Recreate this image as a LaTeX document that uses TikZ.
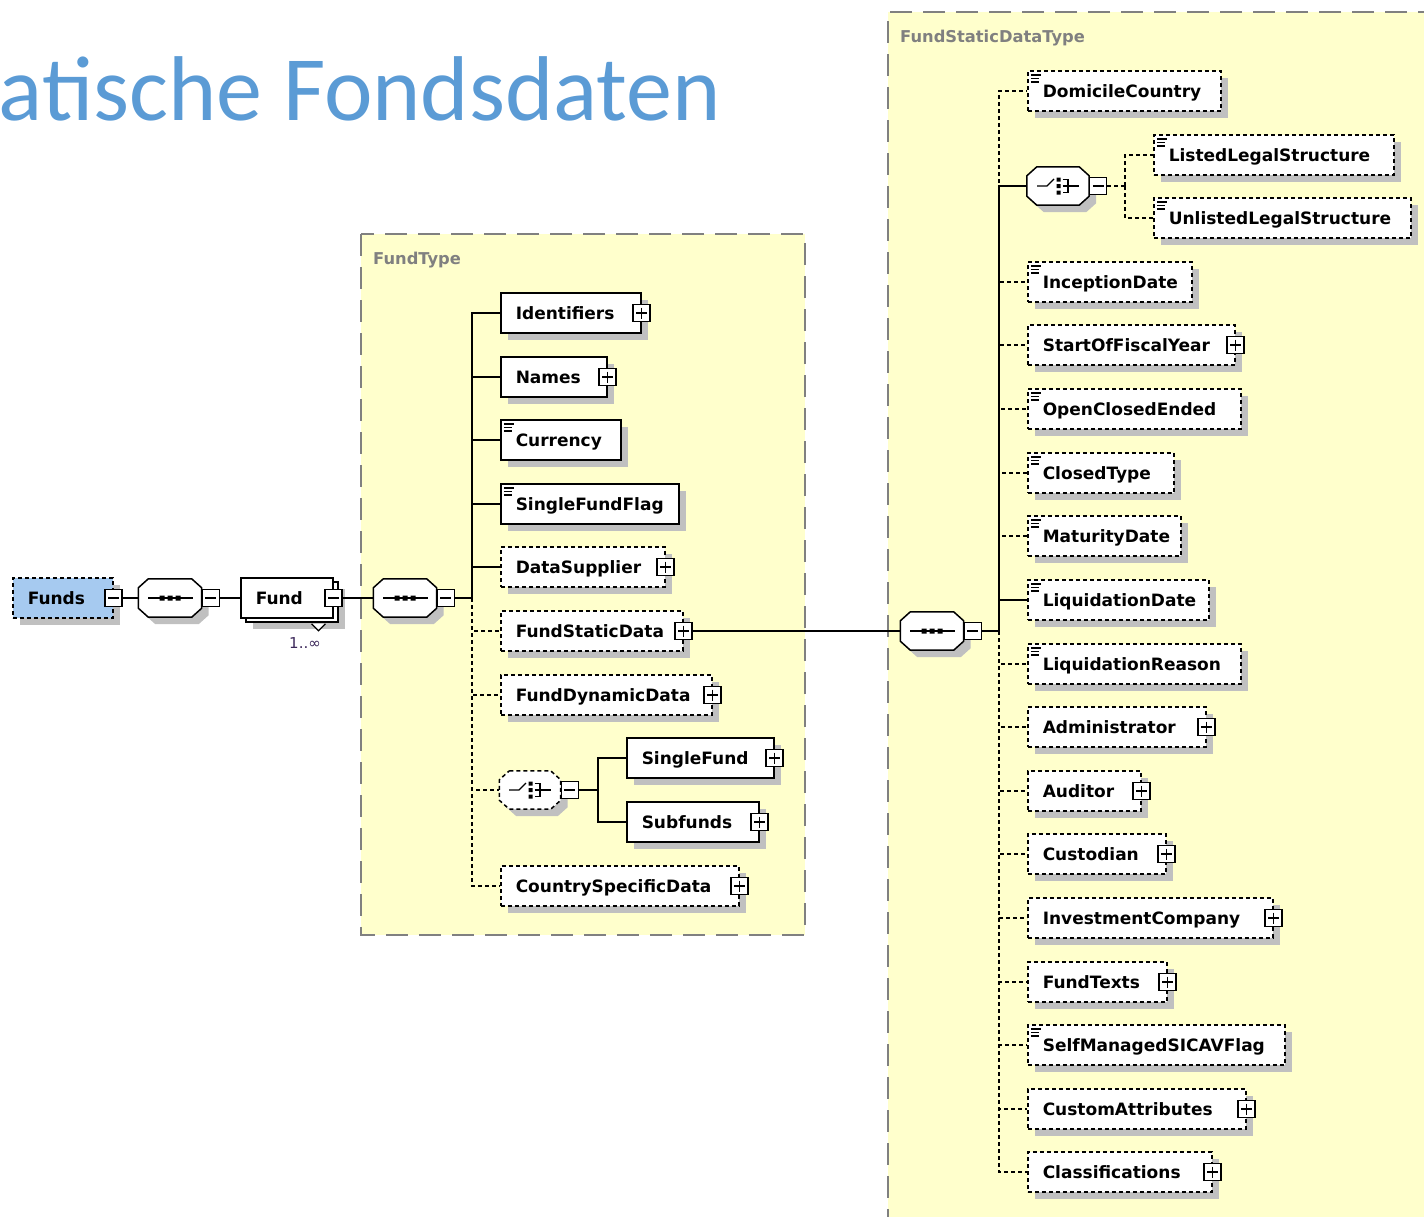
\documentclass[tikz,border=0pt]{standalone}
\usepackage{fontspec}
\usetikzlibrary{shadows}
\newfontfamily\elfam{DejaVu Sans}
\newfontfamily\ttlfam{Carlito}
\definecolor{yel}{RGB}{255,255,204}
\definecolor{shgray}{RGB}{192,192,192}
\definecolor{pgray}{RGB}{128,128,128}
\definecolor{fblue}{RGB}{166,202,240}
\definecolor{tblue}{RGB}{91,155,213}
\definecolor{multc}{RGB}{60,40,90}
\newcommand\myel[6]{\node[#1, minimum width=#5pt] (#2) at (#3,#4) {\makebox[\dimexpr#5pt-30pt\relax][l]{#6}};}
\newcommand\myoct[2]{\path[octs,#2] ([xshift=10pt]#1.north west) -- ([xshift=-10pt]#1.north east) -- ([yshift=-9pt]#1.north east) -- ([yshift=9pt]#1.south east) -- ([xshift=-10pt]#1.south east) -- ([xshift=10pt]#1.south west) -- ([yshift=9pt]#1.south west) -- ([yshift=-9pt]#1.north west) -- cycle;}
\newcommand\seqsym[1]{\begin{scope}[shift={(#1.center)}]
  \draw[line width=1.3pt] (-22pt,0pt) -- (23pt,0pt);
  \fill[black] (-10.5pt,-2.5pt) rectangle (-5.5pt,2.5pt) (-2.5pt,-2.5pt) rectangle (2.5pt,2.5pt) (5.5pt,-2.5pt) rectangle (10.5pt,2.5pt);
  \end{scope}}
\newcommand\chosym[1]{\begin{scope}[shift={(#1.center)}]
  \draw[line width=1.3pt] (-21pt,0pt) -- (-11pt,0pt) -- (-4pt,7pt);
  \fill[black] (-1.5pt,4.5pt) rectangle (2.5pt,8.5pt) (-1.5pt,-2pt) rectangle (2.5pt,2pt) (-1.5pt,-8.5pt) rectangle (2.5pt,-4.5pt);
  \draw[line width=1.2pt] (4.5pt,6.5pt) -- (10pt,6.5pt) -- (10pt,-6.5pt) -- (4.5pt,-6.5pt) (4.5pt,0pt) -- (21pt,0pt);
  \end{scope}}
\begin{document}
\begin{tikzpicture}[x=1pt,y=1pt,
  core/.style={draw, fill=white, line width=1.5pt, anchor=west,
    font=\elfam\bfseries\fontsize{17}{20}\selectfont,
    text height=16pt, text depth=4pt, inner xsep=15pt, inner ysep=0pt,
    minimum height=40pt},
  shd/.style={general shadow={fill=shgray, shadow xshift=7pt, shadow yshift=-7pt}},
  man/.style={core, shd},
  opt/.style={core, shd, dash pattern=on 4pt off 3pt},
  ico/.style={path picture={\draw[solid, black, line width=1.1pt]
      ([shift={(3pt,-4pt)}]path picture bounding box.north west) -- ++(10pt,0pt)
      ([shift={(3pt,-7.5pt)}]path picture bounding box.north west) -- ++(8pt,0pt)
      ([shift={(3pt,-11pt)}]path picture bounding box.north west) -- ++(8pt,0pt);}},
  pmb/.style={draw, fill=white, solid, line width=1.2pt, minimum size=17pt, inner sep=0pt, anchor=center},
  plus/.style={pmb, path picture={\draw[solid, black, line width=1.3pt]
      ([xshift=3pt]path picture bounding box.west) -- ([xshift=-3pt]path picture bounding box.east)
      ([yshift=-3pt]path picture bounding box.north) -- ([yshift=3pt]path picture bounding box.south);}},
  minus/.style={pmb, path picture={\draw[solid, black, line width=1.3pt]
      ([xshift=3pt]path picture bounding box.west) -- ([xshift=-3pt]path picture bounding box.east);}},
  octn/.style={draw=none, fill=none, minimum width=63pt, minimum height=38pt, inner sep=0pt},
  octs/.style={draw, fill=white, line width=1.5pt, shd},
  con/.style={line width=1.4pt},
  ocon/.style={line width=1.4pt, dash pattern=on 4pt off 3pt},
  panel/.style={draw=pgray, line width=2pt, dash pattern=on 22pt off 11pt},
  lbl/.style={font=\elfam\bfseries\fontsize{16.3}{19}\selectfont, text=pgray, inner sep=0pt, anchor=base west},
]
\useasboundingbox (0,0) rectangle (1424,-1216);
% panels
\fill[yel] (888,-12) rectangle (1440,-1230);
\draw[panel] (1440,-12) -- (888,-12) -- (888,-1230);
\draw[panel, fill=yel] (361,-234) rectangle (805,-935);
\node[lbl] (ftlbl) at (373,-264) {FundType};
\node[lbl] (fsdtlbl) at (900,-42) {FundStaticDataType};
% title
\node[font=\ttlfam\fontsize{92}{100}\selectfont, text=tblue, anchor=base east, inner sep=0pt] (title) at (721,-120) {atische Fondsdaten};

% left chain
\myel{opt, fill=fblue}{funds}{12}{-598}{100}{Funds}
\node[minus] (fundsm) at (funds.east) {};
\node[octn] (seq0) at (170,-598) {};
\myoct{seq0}{}
\seqsym{seq0}
\node[minus, anchor=west] (seq0m) at (seq0.east) {};
\myel{core, general shadow={fill=shgray, shadow xshift=12pt, shadow yshift=-11pt},
  general shadow={fill=white, draw=black, line width=1.5pt, shadow xshift=5pt, shadow yshift=-4pt}}{fund}{240}{-598}{92}{Fund}
\fill[white] ([shift={(-22pt,-5pt)}]fund.south east) -- ++(7pt,-7pt) -- ++(7pt,7pt) -- cycle;
\draw[line width=1.2pt] ([shift={(-22pt,-5pt)}]fund.south east) -- ++(7pt,-7pt) -- ++(7pt,7pt);
\node[minus] (fundm) at (fund.east) {};
\node[font=\elfam\fontsize{15}{18}\selectfont, text=multc, inner sep=0pt] (mult) at (305,-643) {1..∞};

% FundType
\node[octn] (seqA) at (405,-598) {};
\myoct{seqA}{}
\seqsym{seqA}
\node[minus, anchor=west] (seqAm) at (seqA.east) {};
\coordinate (tA) at (472,-598);
\myel{man}{ident}{500}{-313}{140}{Identifiers}
\myel{man}{names}{500}{-377}{106}{Names}
\myel{man,ico}{curr}{500}{-440}{120}{Currency}
\myel{man,ico}{sff}{500}{-504}{178}{SingleFundFlag}
\myel{opt}{dsup}{500}{-567}{164}{DataSupplier}
\myel{opt}{fsd}{500}{-631}{182}{FundStaticData}
\myel{opt}{fdd}{500}{-695}{211}{FundDynamicData}
\node[octn, minimum width=61pt] (chA) at (530,-790) {};
\myoct{chA}{dash pattern=on 4pt off 3pt}
\chosym{chA}
\node[minus, anchor=west] (chAm) at (chA.east) {};
\coordinate (tC) at (598,-790);
\myel{man}{sfund}{626}{-758}{147}{SingleFund}
\myel{man}{subf}{626}{-822}{132}{Subfunds}
\myel{opt}{csd}{500}{-886}{238}{CountrySpecificData}
\foreach \n in {ident,names,dsup,fsd,fdd,sfund,subf,csd} {\node[plus] (\n p) at (\n.east) {};}

% FundStaticDataType
\node[octn] (seqB) at (932,-631) {};
\myoct{seqB}{}
\seqsym{seqB}
\node[minus, anchor=west] (seqBm) at (seqB.east) {};
\coordinate (tB) at (999,-631);
\myel{opt,ico}{dom}{1027}{-91}{193}{DomicileCountry}
\node[octn, minimum width=62pt] (chB) at (1058,-186) {};
\myoct{chB}{}
\chosym{chB}
\node[minus, anchor=west] (chBm) at (chB.east) {};
\coordinate (tD) at (1125,-186);
\myel{opt,ico}{lls}{1153}{-155}{240}{ListedLegalStructure}
\myel{opt,ico}{uls}{1153}{-218}{257}{UnlistedLegalStructure}
\myel{opt,ico}{incd}{1027}{-282}{164}{InceptionDate}
\myel{opt}{sofy}{1027}{-345}{207}{StartOfFiscalYear}
\myel{opt,ico}{oce}{1027}{-409}{213}{OpenClosedEnded}
\myel{opt,ico}{clt}{1027}{-473}{146}{ClosedType}
\myel{opt,ico}{matd}{1027}{-536}{153}{MaturityDate}
\myel{opt,ico}{liqd}{1027}{-600}{181}{LiquidationDate}
\myel{opt,ico}{liqr}{1027}{-664}{213}{LiquidationReason}
\myel{opt}{adm}{1027}{-727}{178}{Administrator}
\myel{opt}{aud}{1027}{-791}{113}{Auditor}
\myel{opt}{cust}{1027}{-854}{138}{Custodian}
\myel{opt}{invc}{1027}{-918}{245}{InvestmentCompany}
\myel{opt}{ftx}{1027}{-982}{139}{FundTexts}
\myel{opt,ico}{smsf}{1027}{-1045}{257}{SelfManagedSICAVFlag}
\myel{opt}{cattr}{1027}{-1109}{218}{CustomAttributes}
\myel{opt}{clsf}{1027}{-1172}{184}{Classifications}
\foreach \n in {sofy,adm,aud,cust,invc,ftx,cattr,clsf} {\node[plus] (\n p) at (\n.east) {};}

% connectors
\draw[con] (fundsm.east) -- (seq0.west);
\draw[con] (seq0m.east) -- (fund.west);
\draw[con] (fundm.east) -- (seqA.west);
\draw[con] (seqAm.east) -- (tA);
\foreach \n in {ident,names,curr,sff,dsup} {\draw[con] (tA) |- (\n.west);}
\foreach \n in {fsd,fdd,chA,csd} {\draw[ocon] (tA) |- (\n.west);}
\draw[con] (chAm.east) -- (tC);
\draw[con] (tC) |- (sfund.west);
\draw[con] (tC) |- (subf.west);
\draw[con] (fsdp.east) -- (seqB.west);
\draw[con] (seqBm.east) -- (tB);
\foreach \n in {chB,liqd} {\draw[con] (tB) |- (\n.west);}
\foreach \n in {dom,incd,sofy,oce,clt,matd} {\draw[ocon] (tB) |- (\n.west);}
\foreach \n in {liqr,adm,aud,cust,invc,ftx,smsf,cattr,clsf} {\draw[ocon] (tB) |- (\n.west);}
\draw[ocon] (chBm.east) -- (tD);
\draw[ocon] (tD) |- (lls.west);
\draw[ocon] (tD) |- (uls.west);
\end{tikzpicture}
\end{document}
